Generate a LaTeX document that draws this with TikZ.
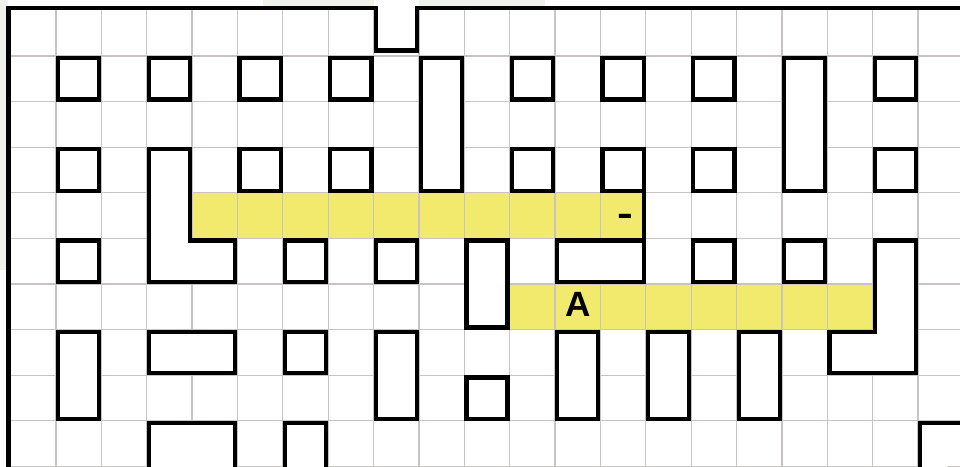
\documentclass[tikz,border=0pt]{standalone}
\usepackage{fontspec}
\usepackage{graphicx}
\setmainfont{Liberation Sans}
\definecolor{hl}{HTML}{F2EA6D}
\definecolor{gridc}{HTML}{C9C4C4}
\definecolor{marginc}{HTML}{EDF2EB}
\newcommand\myins{0.047}
\newcommand\blk[4]{\draw[hole] ({#1+\myins},{#2+\myins}) rectangle ({#3+1-\myins},{#4+1-\myins});}
\begin{document}
\begin{tikzpicture}[x=1cm,y=-1.00507cm,
  wall/.style={line width=2.7pt, draw=black},
  hole/.style={wall, fill=white},
  gridline/.style={draw=gridc, line width=0.8pt},
  band/.style={fill=hl},
  lbl/.style={font=\bfseries\fontsize{22}{22}\selectfont, inner sep=0pt, anchor=base}]
\useasboundingbox (-0.2336,-0.228) rectangle (20.925,9.991);
\clip (-0.2336,-0.228) rectangle (20.925,9.991);
\fill[white] (-0.2336,-0.228) rectangle (20.925,9.991);
\fill[marginc] (5.56,-0.228) rectangle (11.78,-0.05);
\fill[marginc] (-0.2336,-0.228) rectangle (-0.05,5.69);
% highlighted bands
\fill[band] (4,4) rectangle (14,5);
\fill[band] (11,6) rectangle (19,7);
% grid
\foreach \i in {1,...,20} \draw[gridline] (\i,0) -- (\i,10.3);
\foreach \j in {1,...,10} \draw[gridline] (0,\j) -- (21.5,\j);
% notch
\fill[white] (8,-0.3) rectangle (9,0.88);
% border
\draw[wall] (-\myins,10.5) -- (-\myins,-\myins) -- ({8+\myins},-\myins) -- ({8+\myins},0.88)
  -- ({9-\myins},0.88) -- ({9-\myins},-\myins) -- (21.5,-\myins);
% row 1
\blk{1}{1}{1}{1}
\blk{3}{1}{3}{1}
\blk{5}{1}{5}{1}
\blk{7}{1}{7}{1}
\blk{9}{1}{9}{3}
\blk{11}{1}{11}{1}
\blk{13}{1}{13}{1}
\blk{15}{1}{15}{1}
\blk{17}{1}{17}{3}
\blk{19}{1}{19}{1}
% row 3
\blk{1}{3}{1}{3}
\draw[hole] ({3+\myins},{3+\myins}) -- ({4-\myins},{3+\myins}) -- ({4-\myins},{5+\myins})
  -- ({5-\myins},{5+\myins}) -- ({5-\myins},{6-\myins}) -- ({3+\myins},{6-\myins}) -- cycle;
\blk{5}{3}{5}{3}
\blk{7}{3}{7}{3}
\blk{11}{3}{11}{3}
\blk{13}{3}{13}{3}
\blk{15}{3}{15}{3}
\blk{19}{3}{19}{3}
% row 5
\blk{1}{5}{1}{5}
\blk{6}{5}{6}{5}
\blk{8}{5}{8}{5}
\blk{10}{5}{10}{6}
\blk{12}{5}{13}{5}
\blk{15}{5}{15}{5}
\blk{17}{5}{17}{5}
\draw[hole] ({19+\myins},{5+\myins}) -- ({20-\myins},{5+\myins}) -- ({20-\myins},{8-\myins})
  -- ({18+\myins},{8-\myins}) -- ({18+\myins},{7+\myins}) -- ({19+\myins},{7+\myins}) -- cycle;
% wall closing the upper band
\draw[wall] ({14-\myins},{4-\myins}) -- ({14-\myins},{5+\myins});
% row 7
\blk{1}{7}{1}{8}
\blk{3}{7}{4}{7}
\blk{6}{7}{6}{7}
\blk{8}{7}{8}{8}
\blk{10}{8}{10}{8}
\blk{12}{7}{12}{8}
\blk{14}{7}{14}{8}
\blk{16}{7}{16}{8}
% row 9 (cut off)
\draw[hole] ({3+\myins},10.6) -- ({3+\myins},{9+\myins}) -- ({5-\myins},{9+\myins}) -- ({5-\myins},10.6);
\draw[hole] ({6+\myins},10.6) -- ({6+\myins},{9+\myins}) -- ({7-\myins},{9+\myins}) -- ({7-\myins},10.6);
\draw[hole] ({20+\myins},10.6) -- ({20+\myins},{9+\myins}) -- (21.6,{9+\myins});
% labels
\node[lbl] (labA) at (12.5,6.717) {A};
\node[lbl] (labdash) at (13.55,4.717) {\scalebox{1.35}[1]{-}};
\end{tikzpicture}
\end{document}
